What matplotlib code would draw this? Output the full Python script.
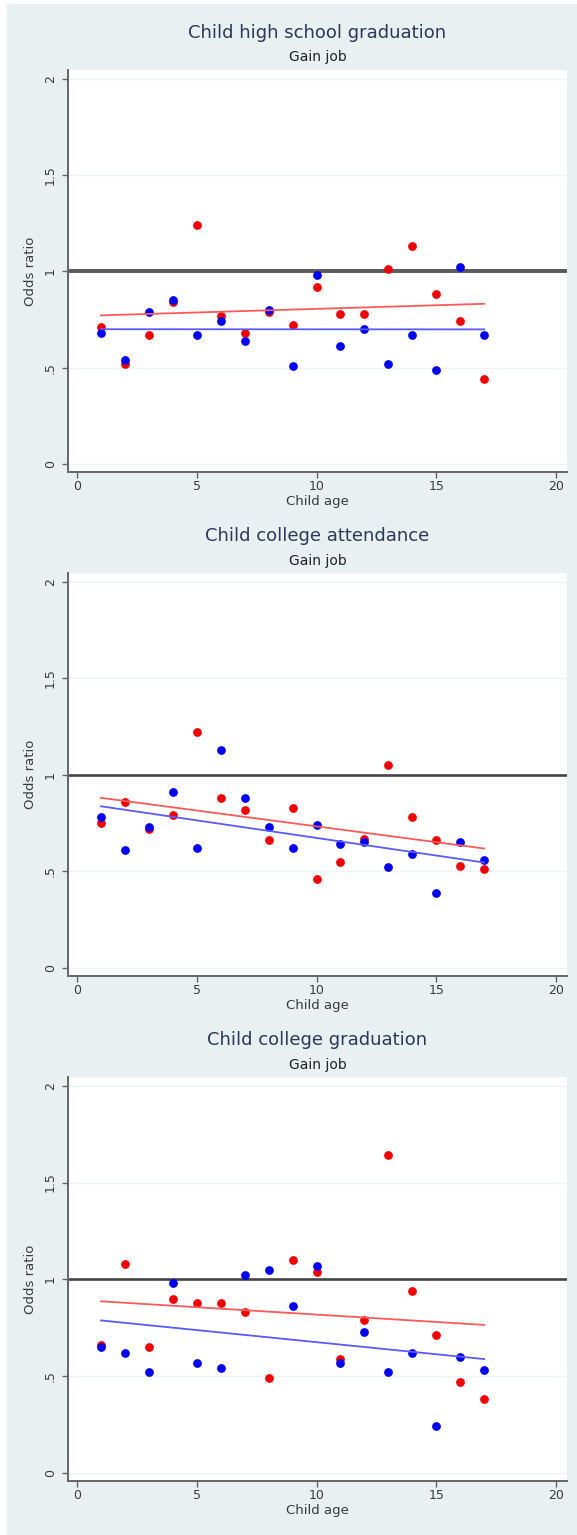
import numpy as np
import matplotlib
matplotlib.use("Agg")
from matplotlib import pyplot as plt
from matplotlib.patches import Rectangle

# odds ratios by child age, two groups per outcome
ages = np.arange(1, 18)

hs_red = [0.71, 0.52, 0.67, 0.84, 1.24, 0.77, 0.68, 0.79, 0.72, 0.92, 0.78, 0.78,
          1.01, 1.13, 0.88, 0.74, 0.44]
hs_blue = [0.68, 0.54, 0.79, 0.85, 0.67, 0.74, 0.64, 0.80, 0.51, 0.98, 0.61, 0.70,
           0.52, 0.67, 0.49, 1.02, 0.67]

att_red = [0.75, 0.86, 0.72, 0.79, 1.22, 0.88, 0.82, 0.66, 0.83, 0.46, 0.55, 0.67,
           1.05, 0.78, 0.66, 0.53, 0.51]
att_blue = [0.78, 0.61, 0.73, 0.91, 0.62, 1.13, 0.88, 0.73, 0.62, 0.74, 0.64, 0.65,
            0.52, 0.59, 0.39, 0.65, 0.56]

grad_red = [0.66, 1.08, 0.65, 0.90, 0.88, 0.88, 0.83, 0.49, 1.10, 1.04, 0.59, 0.79,
            1.64, 0.94, 0.71, 0.47, 0.38]
grad_blue = [0.65, 0.62, 0.52, 0.98, 0.57, 0.54, 1.02, 1.05, 0.86, 1.07, 0.57, 0.73,
             0.52, 0.62, 0.24, 0.60, 0.53]

titles = ["Child high school graduation", "Child college attendance",
          "Child college graduation"]
subtitle = "Gain job"
series = [(hs_red, hs_blue), (att_red, att_blue), (grad_red, grad_blue)]

yticks = [0, 0.5, 1, 1.5, 2]
ytick_labels = ["0", ".5", "1", "1.5", "2"]
xticks = [0, 5, 10, 15, 20]

W, H = 577, 1535
BG = "#e8f0f2"
AXC = "#666666"

fig = plt.figure(figsize=(W / 100, H / 100), dpi=100, facecolor="white")
fig.patches.append(Rectangle((7 / W, 0), 1 - 7 / W, 1 - 4 / H,
                             transform=fig.transFigure, color=BG, zorder=-10))

# panel edges in pixels (top, bottom)
panels = [(70, 472), (573, 976), (1077, 1481)]
left, right = 68, 567
ref_lw = [2.8, 1.9, 1.9]
ref_col = ["#5a5a5a", "#444444", "#444444"]

for i, ((top, bot), (red, blue)) in enumerate(zip(panels, series)):
    ax = fig.add_axes([left / W, 1 - bot / H, (right - left) / W, (bot - top) / H])
    ax.set_facecolor("white")
    ax.set_xlim(-0.38, 20.46)
    ax.set_ylim(-0.042, 2.045)

    ax.set_yticks(yticks)
    ax.set_yticklabels(ytick_labels, rotation=90, va="center")
    ax.set_xticks(xticks)
    ax.tick_params(axis="both", colors=AXC, labelcolor="#3a3a3a", labelsize=9,
                   length=4, width=1)
    ax.tick_params(axis="x", pad=2)
    ax.tick_params(axis="y", pad=4)
    ax.yaxis.grid(True, color="#edf3f4", lw=0.9)
    ax.set_axisbelow(True)

    for s in ["top", "right"]:
        ax.spines[s].set_visible(False)
    for s in ["left", "bottom"]:
        ax.spines[s].set_color(AXC)
        ax.spines[s].set_linewidth(1.4)

    ax.axhline(1, color=ref_col[i], lw=ref_lw[i], zorder=2)

    ax.plot(ages, red, "o", color="#f00000", ms=6.3, mew=0, zorder=3)
    ax.plot(ages, blue, "o", color="#0000f0", ms=6.3, mew=0, zorder=3)

    # linear fits over the age range
    for vals, col in [(red, "#ff5a5a"), (blue, "#5a5aff")]:
        b, a = np.polyfit(ages, vals, 1)
        ax.plot([ages[0], ages[-1]], [a + b * ages[0], a + b * ages[-1]],
                color=col, lw=1.3, zorder=4)

    ax.set_xlabel("Child age", fontsize=9.5, color="#3a3a3a", labelpad=1)
    ax.set_ylabel("Odds ratio", fontsize=9.5, color="#3a3a3a", labelpad=5)

    ax.annotate(titles[i], xy=(0.5, 1), xycoords="axes fraction",
                xytext=(0, 26.6), textcoords="offset points",
                ha="center", va="center", fontsize=13, color="#2b3856")
    ax.annotate(subtitle, xy=(0.5, 1), xycoords="axes fraction",
                xytext=(0, 9), textcoords="offset points",
                ha="center", va="center", fontsize=10, color="#222222")

fig.savefig("out.png", dpi=100, facecolor="white")
